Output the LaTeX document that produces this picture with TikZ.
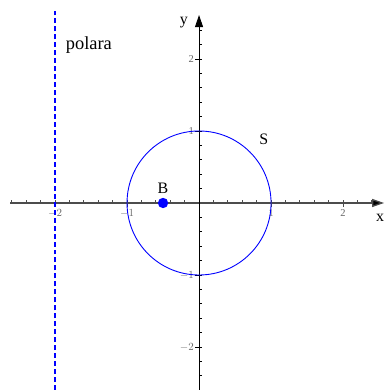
\documentclass[tikz,border=0pt]{standalone}
\usepackage{fontspec}
\setmainfont{Liberation Serif}
\usetikzlibrary{arrows.meta}
\begin{document}
\begin{tikzpicture}[x=1in,y=1in,
  lbl/.style={font=\fontsize{16}{19}\selectfont, inner sep=0pt},
  biglbl/.style={font=\fontsize{18.5}{22}\selectfont, inner sep=0pt},
  ticklbl/.style={font=\fontsize{10.5}{12}\selectfont, text=gray!80!black, inner sep=0pt},
  axisx/.style={draw=black!70, line width=1.3pt, -{Triangle[length=12pt,width=8pt,fill=black]}},
  axisy/.style={draw=black, line width=0.9pt, -{Triangle[length=12pt,width=8pt,fill=black]}},
  tickline/.style={draw=black!70, line width=0.8pt},
  curve/.style={draw=blue, line width=0.9pt},
  polarline/.style={draw=blue, line width=1.2pt, dash pattern=on 5pt off 3pt}]
\useasboundingbox (-2.764,-2.597) rectangle (2.583,2.819);
% coordinates
\coordinate (O) at (0,0);
\coordinate (xl) at (-2.625,0);
\coordinate (xr) at (2.57,0);
\coordinate (yb) at (0,-2.597);
\coordinate (yt) at (0,2.61);
\coordinate (pb) at (-2,-2.597);
\coordinate (ptop) at (-2,2.66);
% ticks x
\foreach \i in {-13,...,12}{
  \draw[tickline] (\i*0.2,0) -- ++(0,3pt);
}
\foreach \i in {-2,-1,1,2}{
  \draw[tickline] (\i,0) -- ++(0,-4pt);
}
% ticks y
\foreach \i in {-12,...,12}{
  \draw[tickline,draw=black] (0,\i*0.2) -- ++(3pt,0);
}
\foreach \i in {-2,-1,1,2}{
  \draw[tickline,draw=black] (0,\i) -- ++(-4pt,0);
}
% tick labels
\node[ticklbl] (tx1) at (-2,-0.14) {$-2$};
\node[ticklbl] (tx2) at (-1,-0.14) {$-1$};
\node[ticklbl] (tx3) at (1,-0.14) {1};
\node[ticklbl] (tx4) at (2,-0.14) {2};
\node[ticklbl, anchor=east] (ty1) at (-0.07,2) {2};
\node[ticklbl, anchor=east] (ty2) at (-0.07,1) {1};
\node[ticklbl, anchor=east] (ty3) at (-0.07,-1) {$-1$};
\node[ticklbl, anchor=east] (ty4) at (-0.07,-2) {$-2$};
% axes
\draw[axisx] (xl) -- (xr);
\draw[axisy] (yb) -- (yt);
% polar line
\draw[polarline] (pb) -- (ptop);
% circle
\draw[curve] (O) circle[radius=1];
% point B
\fill[blue] (-0.5,0) circle[radius=5.2pt] coordinate (Bp);
\node[lbl] (B) at (-0.5,0.21) {B};
\node[lbl] (S) at (0.9,0.89) {S};
\node[lbl] (xlab) at (2.515,-0.21) {x};
\node[lbl] (ylab) at (-0.21,2.5) {y};
\node[biglbl] (polara) at (-1.53,2.2) {polara};
\end{tikzpicture}
\end{document}
